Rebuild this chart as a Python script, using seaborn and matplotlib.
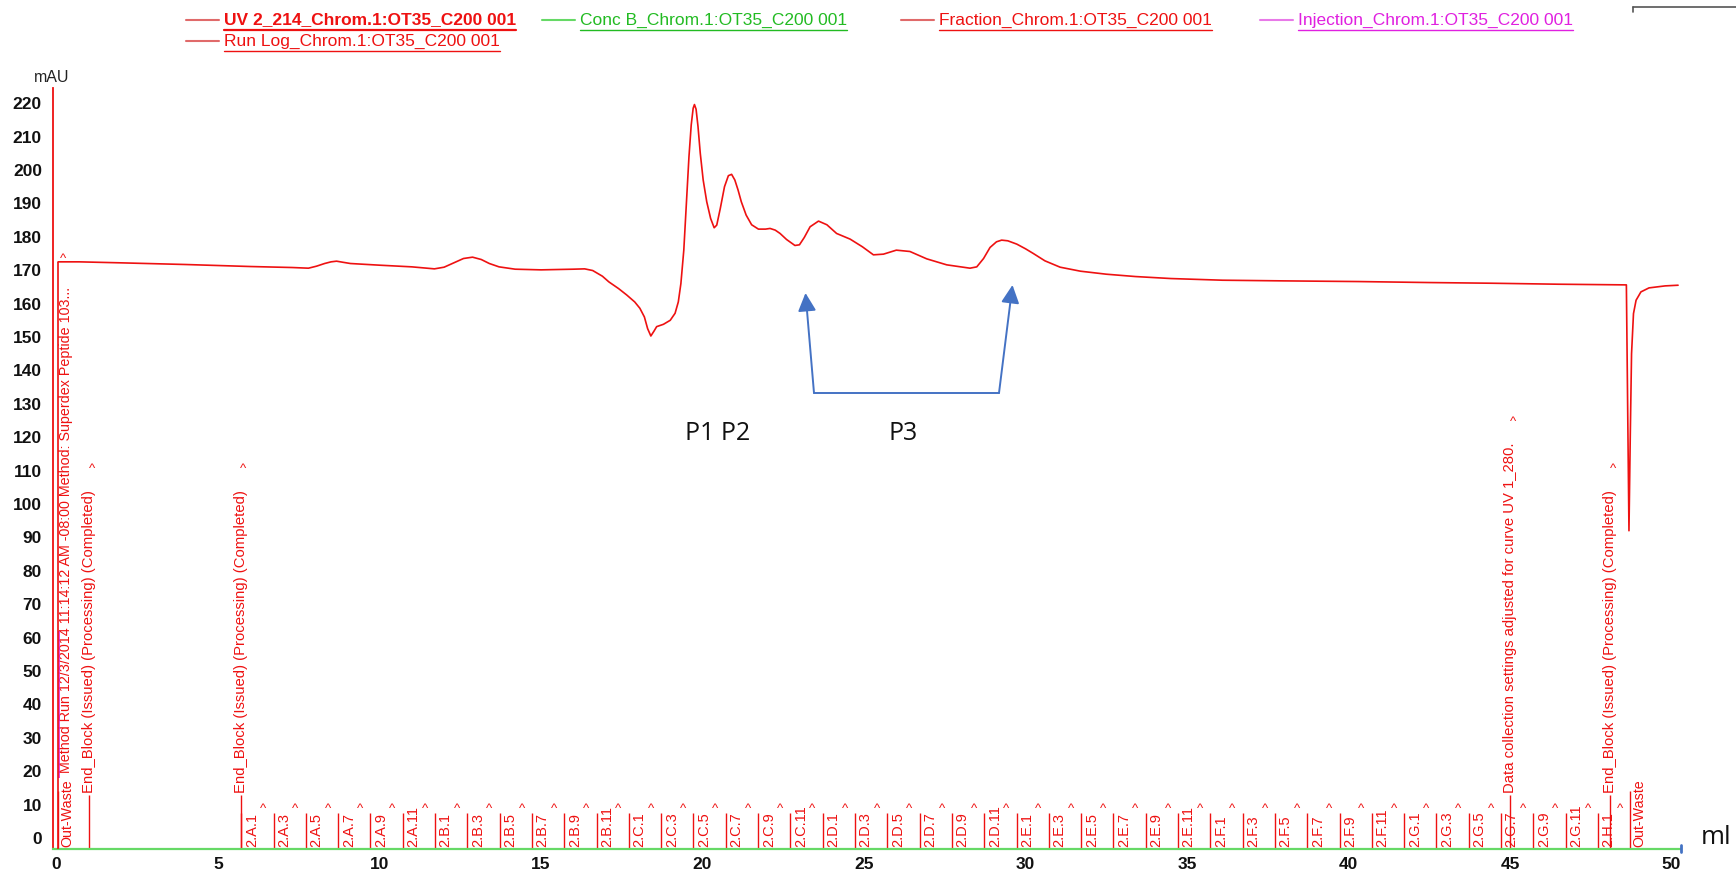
import matplotlib
matplotlib.use("Agg")
import matplotlib.pyplot as plt
from matplotlib.lines import Line2D
from matplotlib.ticker import MultipleLocator
import pandas as pd
import seaborn as sns

# ---- UV 2_214 absorbance trace -------------------------------------------
uv_ml = [0.05, 0.7, 2.0, 4.0, 6.0, 7.3, 7.8, 8.05, 8.3, 8.5, 8.67, 8.85, 9.1,
         10.0, 11.0, 11.7, 12.0, 12.3, 12.6, 12.88, 13.15, 13.4, 13.7, 14.2,
         15.0, 16.0, 16.35, 16.6, 16.9, 17.1, 17.4, 17.65, 17.9, 18.06, 18.2,
         18.3, 18.4, 18.5, 18.58, 18.79, 19.0, 19.15, 19.25, 19.33, 19.42,
         19.5, 19.58, 19.65, 19.71, 19.75, 19.8, 19.86, 19.93, 20.02, 20.13,
         20.25, 20.36, 20.44, 20.55, 20.68, 20.8, 20.9, 21.0, 21.1, 21.2,
         21.35, 21.52, 21.73, 21.95, 22.09, 22.25, 22.4, 22.6, 22.86, 23.0,
         23.15, 23.33, 23.59, 23.85, 24.15, 24.57, 24.95, 25.29, 25.6, 26.0,
         26.42, 26.94, 27.56, 28.28, 28.49, 28.7, 28.9, 29.1, 29.26, 29.45,
         29.73, 30.0, 30.24, 30.6, 31.07, 31.7, 32.5, 33.4, 34.5, 36.1, 38.0,
         40.3, 42.5, 44.4, 46.5, 48.6, 48.68, 48.72, 48.76, 48.82, 48.9,
         49.05, 49.3, 49.8, 50.2]
uv_mau = [172.5, 172.5, 172.2, 171.7, 171.1, 170.8, 170.6, 171.2, 172.0, 172.5,
          172.7, 172.4, 172.0, 171.5, 171.0, 170.4, 170.9, 172.2, 173.5, 173.9,
          173.2, 172.0, 171.0, 170.3, 170.1, 170.3, 170.4, 169.9, 168.2, 166.5,
          164.5, 162.6, 160.5, 158.6, 156.0, 152.5, 150.3, 151.8, 153.1, 153.8,
          155.0, 157.1, 160.5, 166.0, 176.0, 190.0, 204.0, 213.5, 218.5, 219.6,
          218.2, 213.0, 205.0, 197.0, 190.5, 185.5, 182.7, 183.5, 188.5, 195.0,
          198.3, 198.7, 197.0, 194.0, 190.5, 186.5, 183.6, 182.3, 182.3, 182.5,
          182.0, 181.0, 179.2, 177.4, 177.6, 179.8, 183.0, 184.7, 183.6, 181.0,
          179.3, 177.0, 174.6, 174.8, 176.0, 175.6, 173.4, 171.6, 170.6, 171.0,
          173.5, 176.8, 178.5, 179.0, 178.8, 177.8, 176.4, 175.0, 172.8, 170.9,
          169.7, 168.8, 168.1, 167.5, 167.0, 166.8, 166.6, 166.3, 166.1, 165.8,
          165.6, 92.0, 120.0, 145.0, 157.0, 161.0, 163.5, 164.7, 165.3, 165.5]

# ---- Fraction log ----------------------------------------------------------
fraction_ml = [5.72, 6.72, 7.72, 8.72, 9.72, 10.72, 11.72, 12.72, 13.72, 14.72,
               15.72, 16.72, 17.72, 18.72, 19.72, 20.72, 21.72, 22.72, 23.72,
               24.72, 25.72, 26.72, 27.72, 28.72, 29.72, 30.72, 31.72, 32.72,
               33.72, 34.72, 35.72, 36.72, 37.72, 38.72, 39.72, 40.72, 41.72,
               42.72, 43.72, 44.72, 45.72, 46.72, 47.72]
fraction_names = ["2.A.1", "2.A.3", "2.A.5", "2.A.7", "2.A.9", "2.A.11",
                  "2.B.1", "2.B.3", "2.B.5", "2.B.7", "2.B.9", "2.B.11",
                  "2.C.1", "2.C.3", "2.C.5", "2.C.7", "2.C.9", "2.C.11",
                  "2.D.1", "2.D.3", "2.D.5", "2.D.7", "2.D.9", "2.D.11",
                  "2.E.1", "2.E.3", "2.E.5", "2.E.7", "2.E.9", "2.E.11",
                  "2.F.1", "2.F.3", "2.F.5", "2.F.7", "2.F.9", "2.F.11",
                  "2.G.1", "2.G.3", "2.G.5", "2.G.7", "2.G.9", "2.G.11",
                  "2.H.1"]
waste_ml = [0.05, 48.7]

# ---- Run log ---------------------------------------------------------------
runlog_ml = [1.02, 5.70, 45.0, 48.1]
runlog_text = ["End_Block (Issued) (Processing) (Completed)",
               "End_Block (Issued) (Processing) (Completed)",
               "Data collection settings adjusted for curve UV 1_280.",
               "End_Block (Issued) (Processing) (Completed)"]
runlog_caret_mau = [110.5, 110.5, 124.6, 110.5]
method_run_ml = 0.3
method_run_text = ("Method Run 12/3/2014 11:14:12 AM -08:00 "
                   "Method: Superdex Peptide 103...")

y_ticks = list(range(0, 221, 10))
x_ticks = list(range(0, 51, 5))

RED = "#ee1111"
GREEN = "#66d966"
MAGENTA = "#e020e0"
BLUE = "#4472c4"
W, H = 1736, 875

sns.set_style("white")
plt.rcParams["font.family"] = ["Liberation Sans", "DejaVu Sans"]

fig = plt.figure(figsize=(W / 100, H / 100), dpi=100)
ax = fig.add_axes([53 / W, 26 / H, 1627 / W, 761 / H])
ax.set_xlim(-0.108, 50.26)
ax.set_ylim(-3.3, 224.55)

df = pd.DataFrame({"ml": uv_ml, "mAU": uv_mau})
sns.lineplot(data=df, x="ml", y="mAU", sort=False, estimator=None,
             color=RED, lw=1.2, ax=ax, zorder=5)
ymin = ax.get_ylim()[0]
# trace start
ax.vlines(uv_ml[0], ymin, uv_mau[0], color=RED, lw=1.2, zorder=5)
# injection mark
ax.vlines(0.09, 18, 62, color=MAGENTA, lw=1.2, zorder=4)

# fractions
for x, name in zip(fraction_ml, fraction_names):
    ax.vlines(x, ymin, 7.5, color=RED, lw=1.0)
    ax.text(x + 0.33, -2.6, name, rotation=90, ha="center", va="bottom",
            fontsize=10.5, color=RED)
    ax.text(x + 0.68, 8.6, "^", ha="center", va="center", fontsize=9.5,
            color=RED)
for x in waste_ml:
    ax.vlines(x, ymin, 14, color=RED, lw=1.0)
    ax.text(x + 0.3, -2.6, "Out-Waste", rotation=90, ha="center",
            va="bottom", fontsize=10.3, color=RED)

# run log events
for x, txt, yc in zip(runlog_ml, runlog_text, runlog_caret_mau):
    ax.vlines(x, ymin, 13.0, color=RED, lw=1.0)
    ax.text(x, 13.6, txt, rotation=90, ha="center", va="bottom",
            fontsize=10.7, color=RED)
    ax.text(x + 0.08, yc, "^", ha="center", va="center", fontsize=9.5,
            color=RED)
ax.text(method_run_ml, 19.6, method_run_text, rotation=90, ha="center",
        va="bottom", fontsize=10.3, color=RED)
ax.text(0.2, 173.4, "^", ha="center", va="center", fontsize=9.5, color=RED)

# axes styling
for s in ("top", "right"):
    ax.spines[s].set_visible(False)
ax.spines["left"].set_color(RED)
ax.spines["left"].set_linewidth(1.3)
ax.spines["bottom"].set_color(GREEN)
ax.spines["bottom"].set_linewidth(1.6)
ax.set_yticks(y_ticks, labels=[str(v) for v in y_ticks], fontweight="bold")
ax.set_xticks(x_ticks, labels=[str(v) for v in x_ticks], fontweight="bold")
ax.xaxis.set_minor_locator(MultipleLocator(1.25))
ax.tick_params(axis="y", direction="out", length=5, width=0.8,
               color="#999999", pad=3, labelsize=12.5, labelcolor="#111111")
ax.tick_params(axis="x", which="major", direction="inout", length=7,
               width=0.8, color="#999999", pad=2, labelsize=12.5,
               labelcolor="#111111")
ax.tick_params(axis="x", which="minor", direction="inout", length=4,
               width=0.8, color="#999999")
ax.set_xlabel("")
ax.set_ylabel("")
ax.grid(False)

# end-of-axis marker
fig.add_artist(Line2D([1681 / W, 1681 / W], [(H - 852) / H, (H - 845) / H],
                      color=BLUE, lw=2))

fig.text(52 / W, 1 - 77 / H, "mAU", ha="center", va="center", fontsize=11.5,
         color="#222222")
fig.text(1716 / W, 1 - 838 / H, "ml", ha="center", va="center",
         fontsize=18.5, family=["Open Sans", "DejaVu Sans"], color="#111111")

# peak annotations
fig.text(718 / W, 1 - 434 / H, "P1 P2", ha="center", va="center",
         fontsize=18, family=["Open Sans", "DejaVu Sans"], color="#111111")
fig.text(903 / W, 1 - 434 / H, "P3", ha="center", va="center",
         fontsize=18, family=["Open Sans", "DejaVu Sans"], color="#111111")
fig.add_artist(Line2D([814 / W, 999 / W], [1 - 393 / H, 1 - 393 / H],
                      color=BLUE, lw=1.4))
for base, tip in (((814, 393), (805.5, 293)), ((999, 393), (1012.5, 285))):
    ax.annotate("", xy=(tip[0], H - tip[1]), xytext=(base[0], H - base[1]),
                xycoords="figure pixels", textcoords="figure pixels",
                arrowprops=dict(arrowstyle="-|>,head_length=1.1,head_width=0.55",
                                color=BLUE, lw=1.4, shrinkA=0, shrinkB=0))

# top-right rule
fig.add_artist(Line2D([1633 / W, 1736 / W], [1 - 7 / H, 1 - 7 / H],
                      color="#555555", lw=1.2))
fig.add_artist(Line2D([1633 / W, 1633 / W], [1 - 7 / H, 1 - 12 / H],
                      color="#555555", lw=1.2))

# curve legend
legend_items = [
    ("UV 2_214_Chrom.1:OT35_C200 001", RED, "#e06a6a", "bold", 186, 20),
    ("Conc B_Chrom.1:OT35_C200 001", "#22bb22", GREEN, "normal", 542, 20),
    ("Fraction_Chrom.1:OT35_C200 001", RED, "#e06a6a", "normal", 901, 20),
    ("Injection_Chrom.1:OT35_C200 001", MAGENTA, "#e87ae8", "normal", 1260, 20),
    ("Run Log_Chrom.1:OT35_C200 001", RED, "#e06a6a", "normal", 186, 41),
]
texts = []
for label, tcol, lcol, weight, x0, y0 in legend_items:
    fig.add_artist(Line2D([x0 / W, (x0 + 33) / W], [1 - y0 / H, 1 - y0 / H],
                          color=lcol, lw=1.5))
    t = fig.text((x0 + 38) / W, 1 - y0 / H, label, ha="left", va="center",
                 fontsize=12.5, color=tcol, fontweight=weight)
    texts.append((t, tcol, weight))
fig.canvas.draw()
renderer = fig.canvas.get_renderer()
for t, tcol, weight in texts:
    bb = t.get_window_extent(renderer)
    yline = (bb.y0 - 2.0) / H
    fig.add_artist(Line2D([bb.x0 / W, bb.x1 / W], [yline, yline], color=tcol,
                          lw=1.6 if weight == "bold" else 1.0))

fig.savefig("out.png", dpi=100, facecolor="white")
